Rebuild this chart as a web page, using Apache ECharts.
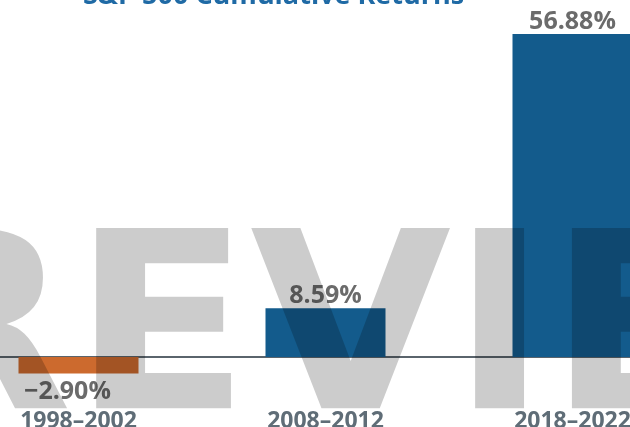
<!DOCTYPE html>
<html>
<head>
<meta charset="utf-8">
<script src="https://cdn.jsdelivr.net/npm/echarts@6/dist/echarts.min.js"></script>
<style>
html,body{margin:0;padding:0;background:#fff;}
#chart{width:630px;height:427px;}
</style>
</head>
<body>
<div id="chart"></div>
<script>
const titleText = 'S&P 500 Cumulative Returns';
const categories = ['1998–2002', '2008–2012', '2018–2022'];
const returns = [-2.90, 8.59, 56.88];
const watermarkText = 'PREVIEW';

const chart = echarts.init(document.getElementById('chart'), null, {renderer: 'canvas'});
const BLUE = '#135b8c';
const ORANGE = '#cc6a2e';

chart.setOption({
  animation: false,
  title: {
    text: titleText,
    left: 78,
    top: -22,
    textStyle: {fontFamily: 'Open Sans', fontWeight: 'bold', fontSize: 27, color: '#1f6aa5'}
  },
  grid: {left: -45, right: -66, top: 16.2, bottom: 47.3, containLabel: false, outerBoundsMode: 'none'},
  xAxis: {
    type: 'category',
    data: categories,
    axisLine: {show: true, onZero: true, lineStyle: {color: '#5a646c', width: 2}},
    axisTick: {show: false},
    axisLabel: {margin: 30, fontFamily: 'Open Sans', fontWeight: 'bold', fontSize: 23, color: '#5f6d77'},
    splitLine: {show: false}
  },
  yAxis: {
    type: 'value', min: -4, max: 60, show: false, splitLine: {show: false}
  },
  series: [{
    type: 'bar',
    barWidth: 120,
    clip: false,
    data: returns.map(v => ({
      value: v,
      itemStyle: {color: v < 0 ? ORANGE : BLUE},
      label: v < 0 ? {position: 'bottom', offset: [-11, 6]} : {position: 'top'}
    })),
    label: {
      show: true,
      distance: 0,
      fontFamily: 'Open Sans', fontWeight: 'bold', fontSize: 25, color: '#6b6b6b',
      formatter: p => (p.value < 0 ? '−' : '') + Math.abs(p.value).toFixed(2) + '%'
    }
  }],
  graphic: {
    elements: [{
      type: 'text',
      x: 347,
      y: 344,
      scaleX: 1.053,
      z: 100,
      silent: true,
      style: {
        text: watermarkText,
        fontSize: 247,
        fontWeight: 'bold',
        fontFamily: 'DejaVu Sans',
        fill: 'rgba(0,0,0,0.2)',
        align: 'center',
        verticalAlign: 'middle'
      }
    }]
  }
});
</script>
</body>
</html>
